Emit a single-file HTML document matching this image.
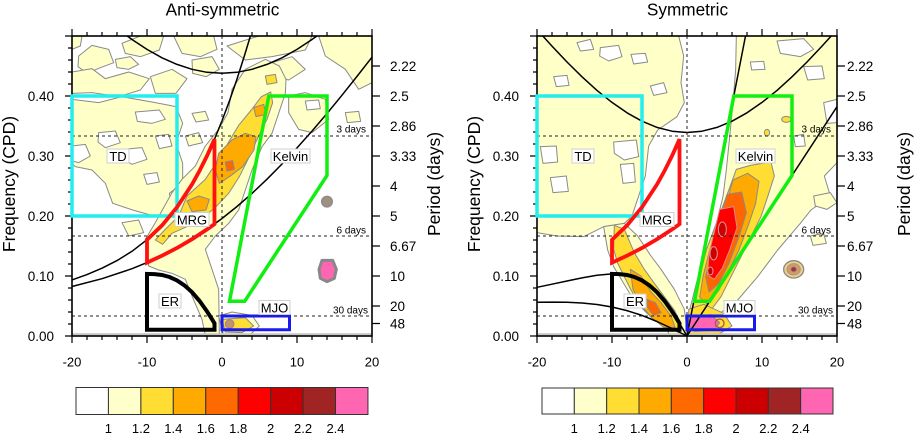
<!DOCTYPE html>
<html><head><meta charset="utf-8"><style>
html,body{margin:0;padding:0;background:#fff;}
svg{display:block;font-family:"Liberation Sans",Arial,sans-serif;}
</style></head><body>
<svg width="917" height="434" viewBox="0 0 917 434" xmlns="http://www.w3.org/2000/svg">
<defs>
<clipPath id="cz"><rect x="0" y="0" width="900" height="900"/></clipPath>
</defs>
<rect width="917" height="434" fill="#fff"/>

<!-- ================= LEFT PANEL FILLS ================= -->
<g transform="translate(72,36) scale(0.333333)">
<g clip-path="url(#cz)">
 <g fill="#ffffc8" stroke="#8a8a8a" stroke-width="3" stroke-linejoin="round">
  <path d="M20,60 L60,28 110,40 125,80 85,95 45,112 18,92Z"/>
  <path d="M0,0 L30,0 25,30 0,40Z"/>
  <path d="M150,22 L205,0 275,0 262,42 205,62 160,52Z"/>
  <path d="M305,0 L425,0 435,40 385,62 330,52Z"/>
  <path d="M0,108 L60,98 100,128 170,108 232,128 205,162 140,182 60,170 0,172Z"/>
  <path d="M235,122 L300,100 345,128 312,172 250,172Z"/>
  <path d="M360,72 L420,62 442,100 402,122 362,112Z"/>
  <path d="M130,70 L175,62 200,85 170,100 135,95Z"/>
  <path d="M465,30 L560,0 720,0 700,42 600,62 520,72Z"/>
  <path d="M740,0 L900,0 900,140 860,160 820,100 760,60Z"/>
  <path d="M600,80 L660,62 700,100 650,132 600,120Z"/>
  <path d="M0,190 L80,200 150,182 250,200 312,212 332,262 312,322 332,382 332,442 292,472 302,522 252,542 182,522 122,502 100,442 60,402 10,392 0,382Z"/>
  <path d="M220,610 L250,560 300,470 330,430 370,390 400,330 440,280 468,230 480,160 520,100 580,70 622,90 642,130 640,172 620,232 600,292 570,332 540,402 520,462 500,522 470,562 430,600 400,640 420,700 440,760 442,900 400,900 390,850 360,780 340,730 300,712 260,702 230,690Z"/>
  <path d="M650,180 L700,170 760,190 770,250 720,290 680,280 650,230Z"/>
  <path d="M440,840 L480,828 540,838 562,870 530,900 455,900Z"/>
  <path d="M360,232 L400,226 410,252 372,258Z"/>
  <path d="M820,230 L860,226 866,256 826,260Z"/>
  <path d="M340,300 L380,290 392,320 350,330Z"/>
  <path d="M150,560 L200,552 215,590 170,600Z"/>
 </g>
 <g fill="#fff" stroke="#8a8a8a" stroke-width="3" stroke-linejoin="round">
  <path d="M190,228 L262,222 280,250 240,262 196,256Z"/>
  <path d="M80,290 L130,285 145,320 100,335 78,318Z"/>
  <path d="M155,340 L210,335 225,370 180,385 150,368Z"/>
  <path d="M0,330 L40,325 55,360 20,380 0,375Z"/>
  <path d="M215,415 L255,410 262,438 225,445Z"/>
  <path d="M250,300 L290,295 300,330 262,338Z"/>
  <path d="M700,195 L740,192 745,218 705,222Z"/>
 </g>
 <g stroke="#8a8a8a" stroke-width="3" stroke-linejoin="round">
  <path fill="#ffdd33" d="M250,612 L275,585 320,540 345,480 400,430 440,370 470,318 500,268 538,222 568,182 596,168 602,200 585,250 560,300 532,362 502,422 470,472 432,512 400,540 360,565 300,592 272,625Z"/>
  <path fill="#ffdd33" d="M580,120 L610,115 615,140 585,145Z"/>
  <path fill="#ffaa00" d="M440,352 L480,312 520,292 552,302 546,342 512,392 472,422 442,442 430,402Z"/>
  <path fill="#ffaa00" d="M345,495 L380,480 412,490 402,522 360,527Z"/>
  <path fill="#ffaa00" d="M545,215 L575,205 582,235 552,242Z"/>
  <path fill="#ff6600" d="M460,378 L482,374 487,400 465,405Z"/>
  <path fill="#ffdd33" d="M450,850 L520,845 545,870 510,890 460,888Z"/>
  <circle cx="473" cy="864" r="13" fill="#c89070"/>
  <circle cx="765" cy="497" r="16" fill="#a09080" stroke-width="4"/>
  <path d="M750,673 L782,673 793,700 787,727 765,737 745,727 741,700Z" fill="#ff66b2" stroke="#888" stroke-width="9"/>
 </g>
</g>
</g>

<!-- ================= RIGHT PANEL FILLS ================= -->
<g transform="translate(537,36) scale(0.333333)">
<g clip-path="url(#cz)">
 <g fill="#ffffc8" stroke="#8a8a8a" stroke-width="3" stroke-linejoin="round">
  <path d="M0,0 L425,0 440,60 432,140 442,200 420,242 362,282 335,330 325,420 305,480 285,540 262,562 200,572 140,602 60,600 0,590Z"/>
  <path d="M200,572 L262,562 302,600 342,660 372,700 412,760 442,820 452,900 400,900 380,865 330,832 290,792 260,742 230,692 212,642Z"/>
  <path d="M598,0 L900,0 900,380 862,420 880,480 822,522 790,562 722,642 662,722 602,792 562,822 522,852 482,900 450,900 458,822 478,742 508,642 538,562 558,482 568,402 578,302 588,202 596,100Z"/>
  <path d="M830,480 L880,470 900,500 870,520 835,510Z"/>
  <path d="M820,600 L860,592 868,622 828,628Z"/>
 </g>
 <g fill="#fff" stroke="#8a8a8a" stroke-width="3" stroke-linejoin="round">
  <path d="M190,35 L245,28 255,62 215,75 188,60Z"/>
  <path d="M282,55 L325,52 332,78 290,84Z"/>
  <path d="M50,122 L90,118 96,148 58,152Z"/>
  <path d="M230,318 L298,312 305,362 262,372 232,352Z"/>
  <path d="M250,385 L290,382 295,438 258,442Z"/>
  <path d="M10,332 L58,330 62,378 18,382Z"/>
  <path d="M40,425 L88,420 94,466 48,470Z"/>
  <path d="M120,20 L160,10 170,40 130,45Z"/>
  <path d="M340,150 L380,140 390,170 350,178Z"/>
  <path d="M720,15 L800,8 830,40 790,62 730,52Z"/>
  <path d="M800,92 L855,90 862,128 812,132Z"/>
  <path d="M640,78 L680,76 684,100 644,102Z"/>
  <path d="M860,200 L900,190 900,260 870,262Z"/>
  <path d="M770,300 L800,295 805,330 775,332Z"/>
 </g>
 <g stroke="#8a8a8a" stroke-width="3" stroke-linejoin="round">
  <path fill="#ffdd33" d="M598,400 L640,388 702,378 712,420 692,482 672,542 642,602 612,662 582,722 552,782 522,822 502,852 472,862 468,802 488,722 508,642 538,562 568,482Z"/>
  <ellipse cx="748" cy="250" rx="14" ry="9" fill="#ffdd33"/>
  <ellipse cx="690" cy="290" rx="8" ry="10" fill="#ffdd33"/>
  <path fill="#ffaa00" d="M588,432 L632,412 666,436 656,502 636,562 606,642 576,702 546,762 512,806 488,784 498,722 518,642 548,562 568,502Z"/>
  <path fill="#ff6600" d="M570,475 L614,468 628,530 606,602 576,682 546,742 516,768 506,722 526,642 546,562Z"/>
  <path fill="#ff0000" stroke="#d88" d="M548,520 L590,512 600,575 578,642 556,696 532,730 512,718 516,652 532,588Z"/>
  <ellipse cx="556" cy="580" rx="12" ry="22" fill="#cc0000" stroke="#d99"/>
  <ellipse cx="530" cy="652" rx="11" ry="20" fill="#cc0000" stroke="#d99"/>
  <ellipse cx="520" cy="705" rx="8" ry="12" fill="#cc0000" stroke="#d99"/>
  <path fill="#ffdd33" d="M232,568 L262,580 292,650 322,700 352,742 382,782 412,822 432,862 425,890 392,872 352,852 312,812 282,762 262,722 242,682 230,640Z"/>
  <path fill="#ffaa00" d="M280,700 L312,720 342,768 372,800 402,840 414,874 380,874 340,842 310,802 288,760Z"/>
  <path fill="#ff6600" d="M330,790 L355,800 372,830 350,838 332,815Z"/>
  <path fill="#ffdd33" d="M455,820 L500,805 560,832 585,870 545,895 455,895Z"/>
  <path fill="#ff66b2" d="M462,842 L522,836 548,860 532,882 472,886 456,870Z"/>
  <circle cx="548" cy="862" r="13" fill="none" stroke="#a55" stroke-width="4"/>
  <ellipse cx="770" cy="700" rx="30" ry="26" fill="#f2cf80" stroke-width="4"/>
  <ellipse cx="770" cy="700" rx="20" ry="17" fill="#d89a60" stroke="#999"/>
  <ellipse cx="770" cy="700" rx="9" ry="8" fill="#a33" stroke="#999"/>
 </g>
</g>
</g>

<!-- bottom gray strips -->
<path d="M72,334.3H372M537,334.3H837" stroke="#c4c4c4" stroke-width="2"/>

<!-- ================= LEFT PANEL LINES ================= -->
<g fill="none" stroke="#000" stroke-width="1.5" stroke-linejoin="round">
 <path d="M72,279.9 L87,274.6 102,268.2 117,260.6 132,251.3 147,239.7 162,225.4 177,207.2 192,184.4 199.5,170.9 207,155.9 214.5,139.2 222,120.8 229.5,100.7 237,79 244.5,55.5 250.4,36"/>
 <path d="M72,286.5 L102,278.7 132,268.7 147,262.6 162,255.7 177,248 192,239.2 207,229.4 222,218.5 237,206.5 252,193.4 267,179.2 282,164 297,147.9 312,131.1 327,113.5 342,95.2 357,76.4 372,57.2"/>
 <path d="M127.2,36 L132,39.5 147,49.4 162,57.8 177,64.4 192,69.3 207,72.3 222,73.3 237,72.3 252,69.3 267,64.4 282,57.8 297,49.4 312,39.5 316.8,36"/>
</g>
<!-- ================= RIGHT PANEL LINES ================= -->
<g fill="none" stroke="#000" stroke-width="1.5" stroke-linejoin="round">
 <path d="M542.8,36 L552,46.1 567,62 582,76.8 597,90.4 612,102.4 627,112.8 642,121.2 657,127.4 672,131.2 687,132.5 702,131.2 717,127.4 732,121.2 747,112.8 762,102.4 777,90.4 792,76.8 807,62 822,46.1 831.2,36"/>
 <path d="M537,287.3 L552,284.2 567,281 582,277.9 597,275.3 612,273.9 619.5,274.1 627,275 634.5,277 642,280.4 649.5,285.4 657,292.2 664.5,300.9 672,311.4 675.75,317.2 679.5,323.3 683.25,329.6 687,336"/>
 <path d="M537,302.3 L553.9,302.1 567,302.3 582,303 597,304.5 612,307 627,310.6 642,315.4 657,321.5 672,328.5 687,336"/>
 <path d="M687,336 L837,106.7"/>
 <path d="M687,336 L745.5,36"/>
</g>

<!-- dashed lines -->
<g stroke="#222" stroke-width="1" stroke-dasharray="3 3" fill="none">
 <path d="M72,136H372M72,236H372M72,316H372M222,36V336"/>
 <path d="M537,136H837M537,236H837M537,316H837M687,36V336"/>
</g>

<!-- frames and ticks -->
<g fill="none" stroke="#000" stroke-width="1.6">
 <rect x="72" y="36" width="300" height="300"/>
 <rect x="537" y="36" width="300" height="300"/>
</g>
<g stroke="#000" stroke-width="1.2" fill="none">
 <path d="M72,336V343M147,336V343M222,336V343M297,336V343M372,336V343M87,336V340M102,336V340M117,336V340M132,336V340M162,336V340M177,336V340M192,336V340M207,336V340M237,336V340M252,336V340M267,336V340M282,336V340M312,336V340M327,336V340M342,336V340M357,336V340
 M72,36V29M147,36V29M222,36V29M297,36V29M372,36V29M87,36V32M102,36V32M117,36V32M132,36V32M162,36V32M177,36V32M192,36V32M207,36V32M237,36V32M252,36V32M267,36V32M282,36V32M312,36V32M327,36V32M342,36V32M357,36V32
 M72,336H65M72,276H65M72,216H65M72,156H65M72,96H65M72,36H65M72,324H68M72,312H68M72,300H68M72,288H68M72,264H68M72,252H68M72,240H68M72,228H68M72,204H68M72,192H68M72,180H68M72,168H68M72,144H68M72,132H68M72,120H68M72,108H68M72,84H68M72,72H68M72,60H68M72,48H68
 M372,66H380M372,96H380M372,126H380M372,156H380M372,186H380M372,216H380M372,246H380M372,276H380M372,306H380M372,323.5H380"/>
 <path transform="translate(465,0)" d="M72,336V343M147,336V343M222,336V343M297,336V343M372,336V343M87,336V340M102,336V340M117,336V340M132,336V340M162,336V340M177,336V340M192,336V340M207,336V340M237,336V340M252,336V340M267,336V340M282,336V340M312,336V340M327,336V340M342,336V340M357,336V340
 M72,36V29M147,36V29M222,36V29M297,36V29M372,36V29M87,36V32M102,36V32M117,36V32M132,36V32M162,36V32M177,36V32M192,36V32M207,36V32M237,36V32M252,36V32M267,36V32M282,36V32M312,36V32M327,36V32M342,36V32M357,36V32
 M72,336H65M72,276H65M72,216H65M72,156H65M72,96H65M72,36H65M72,324H68M72,312H68M72,300H68M72,288H68M72,264H68M72,252H68M72,240H68M72,228H68M72,204H68M72,192H68M72,180H68M72,168H68M72,144H68M72,132H68M72,120H68M72,108H68M72,84H68M72,72H68M72,60H68M72,48H68
 M372,66H380M372,96H380M372,126H380M372,156H380M372,186H380M372,216H380M372,246H380M372,276H380M372,306H380M372,323.5H380"/>
</g>

<!-- boxes left -->
<g fill="none" stroke-linejoin="miter">
 <path d="M72,96H177V216H72Z" stroke="#22eeee" stroke-width="3.5"/>
 <path d="M229.5,301.2 L244.7,301.2 327,175.5 327,96 268.8,96Z" stroke="#11ee11" stroke-width="3.5"/>
 <path d="M147,239.7 L162,225.4 177,207.2 192,184.4 199.5,170.9 207,155.9 214.5,139.2 L214.5,224.1 207,229.4 192,239.2 177,248 162,255.7 147,262.6Z" stroke="#ff1111" stroke-width="3.8"/>
 <path d="M147,329.8 L147,273.9 154.5,274.1 162,275 169.5,277 177,280.4 184.5,285.4 192,292.2 199.5,300.9 207,311.4 210.75,317.2 214.5,323.3 214.5,329.8Z" stroke="#000" stroke-width="4"/>
 <path d="M222,316H289.5V329.75H222Z" stroke="#1a1aee" stroke-width="3"/>
</g>
<!-- boxes right -->
<g fill="none" stroke-linejoin="miter" transform="translate(465,0)">
 <path d="M72,96H177V216H72Z" stroke="#22eeee" stroke-width="3.5"/>
 <path d="M229.5,301.2 L244.7,301.2 327,175.5 327,96 268.8,96Z" stroke="#11ee11" stroke-width="3.5"/>
 <path d="M147,239.7 L162,225.4 177,207.2 192,184.4 199.5,170.9 207,155.9 214.5,139.2 L214.5,224.1 207,229.4 192,239.2 177,248 162,255.7 147,262.6Z" stroke="#ff1111" stroke-width="3.8"/>
 <path d="M147,329.8 L147,273.9 154.5,274.1 162,275 169.5,277 177,280.4 184.5,285.4 192,292.2 199.5,300.9 207,311.4 210.75,317.2 214.5,323.3 214.5,329.8Z" stroke="#000" stroke-width="4"/>
 <path d="M222,316H289.5V329.75H222Z" stroke="#1a1aee" stroke-width="3"/>
</g>

<!-- label boxes -->
<g fill="#fff" stroke="#cfcfcf" stroke-width="1">
 <rect x="107" y="149" width="22" height="14"/>
 <rect x="271" y="149" width="39" height="14"/>
 <rect x="175" y="212.5" width="34" height="14"/>
 <rect x="159" y="294" width="22" height="14"/>
 <rect x="259" y="300.5" width="31" height="14"/>
 <rect x="572" y="149" width="22" height="14"/>
 <rect x="736" y="149" width="39" height="14"/>
 <rect x="640" y="212.5" width="34" height="14"/>
 <rect x="624" y="294" width="22" height="14"/>
 <rect x="724" y="300.5" width="31" height="14"/>
</g>
<g font-size="13" fill="#000" text-anchor="middle">
 <text x="118" y="160.8">TD</text>
 <text x="290.5" y="160.8">Kelvin</text>
 <text x="192" y="224.3">MRG</text>
 <text x="170" y="305.8">ER</text>
 <text x="274.5" y="312.3">MJO</text>
 <text x="583" y="160.8">TD</text>
 <text x="755.5" y="160.8">Kelvin</text>
 <text x="657" y="224.3">MRG</text>
 <text x="635" y="305.8">ER</text>
 <text x="739.5" y="312.3">MJO</text>
</g>

<!-- day labels -->
<g font-size="10" fill="#000" text-anchor="end">
 <text x="366" y="132.5">3 days</text>
 <text x="366" y="233.5">6 days</text>
 <text x="368" y="313.5">30 days</text>
 <text x="831" y="132.5">3 days</text>
 <text x="831" y="233.5">6 days</text>
 <text x="833" y="313.5">30 days</text>
</g>

<!-- titles -->
<g font-size="17.2" fill="#000" text-anchor="middle">
 <text x="222.5" y="15.5">Anti-symmetric</text>
 <text x="687.5" y="15.5">Symmetric</text>
</g>

<!-- y tick labels -->
<g font-size="13.5" fill="#000" text-anchor="end">
 <text x="54" y="340.9">0.00</text>
 <text x="54" y="280.9">0.10</text>
 <text x="54" y="220.9">0.20</text>
 <text x="54" y="160.9">0.30</text>
 <text x="54" y="100.9">0.40</text>
 <text x="519" y="340.9">0.00</text>
 <text x="519" y="280.9">0.10</text>
 <text x="519" y="220.9">0.20</text>
 <text x="519" y="160.9">0.30</text>
 <text x="519" y="100.9">0.40</text>
</g>
<g font-size="13.5" fill="#000">
 <text x="390" y="70.9">2.22</text>
 <text x="390" y="100.9">2.5</text>
 <text x="390" y="130.9">2.86</text>
 <text x="390" y="160.9">3.33</text>
 <text x="390" y="190.9">4</text>
 <text x="390" y="220.9">5</text>
 <text x="390" y="250.9">6.67</text>
 <text x="390" y="280.9">10</text>
 <text x="390" y="310.9">20</text>
 <text x="390" y="328.4">48</text>
 <text x="847" y="70.9">2.22</text>
 <text x="847" y="100.9">2.5</text>
 <text x="847" y="130.9">2.86</text>
 <text x="847" y="160.9">3.33</text>
 <text x="847" y="190.9">4</text>
 <text x="847" y="220.9">5</text>
 <text x="847" y="250.9">6.67</text>
 <text x="847" y="280.9">10</text>
 <text x="847" y="310.9">20</text>
 <text x="847" y="328.4">48</text>
</g>
<!-- x tick labels -->
<g font-size="13" fill="#000" text-anchor="middle">
 <text x="72" y="366.3">-20</text>
 <text x="147" y="366.3">-10</text>
 <text x="222" y="366.3">0</text>
 <text x="297" y="366.3">10</text>
 <text x="372" y="366.3">20</text>
 <text x="537" y="366.3">-20</text>
 <text x="612" y="366.3">-10</text>
 <text x="687" y="366.3">0</text>
 <text x="762" y="366.3">10</text>
 <text x="837" y="366.3">20</text>
</g>
<!-- axis titles -->
<g font-size="17.5" fill="#000" text-anchor="middle">
 <text transform="translate(15,184) rotate(-90)">Frequency (CPD)</text>
 <text transform="translate(480,184) rotate(-90)">Frequency (CPD)</text>
 <text transform="translate(440,184) rotate(-90)">Period (days)</text>
 <text transform="translate(910,184) rotate(-90)">Period (days)</text>
</g>

<!-- colorbars -->
<g stroke="#333" stroke-width="1">
 <rect x="76" y="387.5" width="32.44" height="27" fill="#ffffff"/>
 <rect x="108.44" y="387.5" width="32.44" height="27" fill="#ffffcc"/>
 <rect x="140.88" y="387.5" width="32.44" height="27" fill="#ffdd33"/>
 <rect x="173.32" y="387.5" width="32.44" height="27" fill="#ffaa00"/>
 <rect x="205.76" y="387.5" width="32.44" height="27" fill="#ff6a00"/>
 <rect x="238.2" y="387.5" width="32.44" height="27" fill="#ff0000"/>
 <rect x="270.64" y="387.5" width="32.44" height="27" fill="#cc0000"/>
 <rect x="303.08" y="387.5" width="32.44" height="27" fill="#a02424"/>
 <rect x="335.52" y="387.5" width="32.44" height="27" fill="#ff66b2"/>
 <rect x="542" y="388" width="32.33" height="26" fill="#ffffff"/>
 <rect x="574.33" y="388" width="32.33" height="26" fill="#ffffcc"/>
 <rect x="606.67" y="388" width="32.33" height="26" fill="#ffdd33"/>
 <rect x="639" y="388" width="32.33" height="26" fill="#ffaa00"/>
 <rect x="671.33" y="388" width="32.33" height="26" fill="#ff6a00"/>
 <rect x="703.67" y="388" width="32.33" height="26" fill="#ff0000"/>
 <rect x="736" y="388" width="32.33" height="26" fill="#cc0000"/>
 <rect x="768.33" y="388" width="32.33" height="26" fill="#a02424"/>
 <rect x="800.67" y="388" width="32.33" height="26" fill="#ff66b2"/>
</g>
<g font-size="13" fill="#000" text-anchor="middle">
 <text x="108.4" y="433">1</text>
 <text x="140.9" y="433">1.2</text>
 <text x="173.3" y="433">1.4</text>
 <text x="205.8" y="433">1.6</text>
 <text x="238.2" y="433">1.8</text>
 <text x="270.6" y="433">2</text>
 <text x="303.1" y="433">2.2</text>
 <text x="335.5" y="433">2.4</text>
 <text x="574.3" y="433">1</text>
 <text x="606.7" y="433">1.2</text>
 <text x="639" y="433">1.4</text>
 <text x="671.3" y="433">1.6</text>
 <text x="703.7" y="433">1.8</text>
 <text x="736" y="433">2</text>
 <text x="768.3" y="433">2.2</text>
 <text x="800.7" y="433">2.4</text>
</g>
</svg>
</body></html>
